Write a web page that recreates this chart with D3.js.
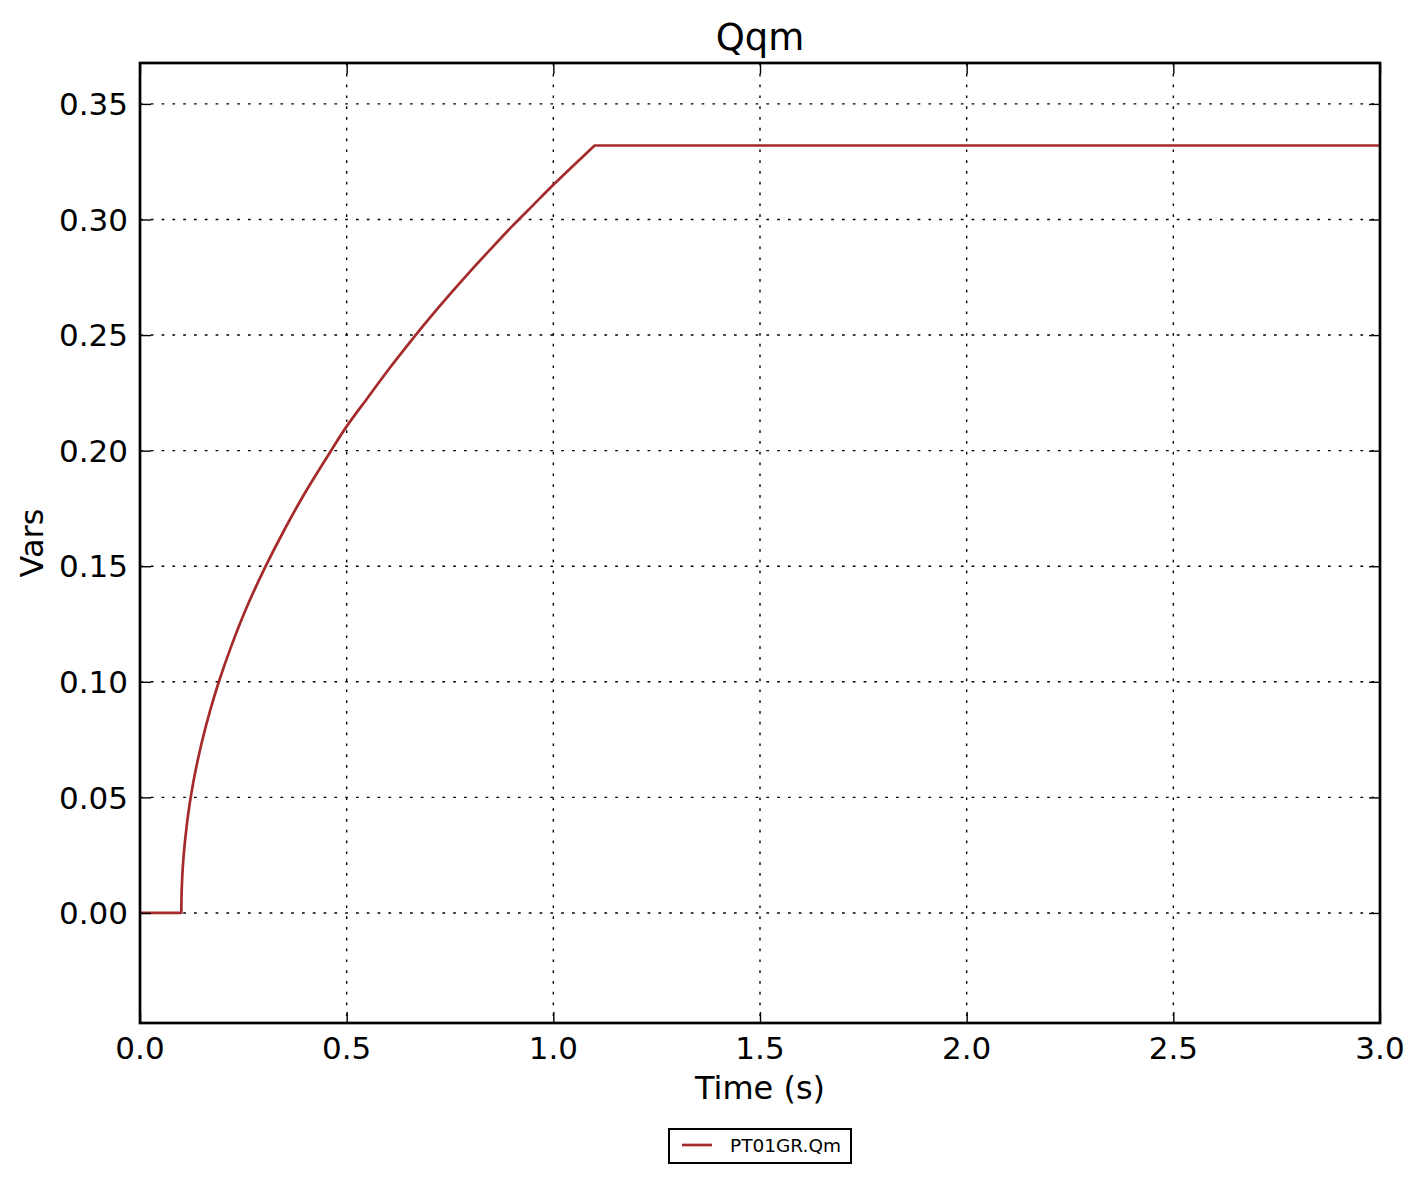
<!DOCTYPE html>
<html>
<head>
<meta charset="utf-8">
<script src="https://cdn.jsdelivr.net/npm/d3@7"></script>
<style>
  html, body { margin: 0; padding: 0; background: #fff; }
  svg { display: block; font-family: "DejaVu Sans", sans-serif; }
</style>
</head>
<body>
<svg id="chart" width="1424" height="1182"></svg>
<script>
// ---- data ----
const timeValues = [0, 0.1, 0.1005, 0.102, 0.105, 0.11, 0.12, 0.13, 0.15, 0.17, 0.19, 0.22, 0.26, 0.3, 0.35, 0.4, 0.45, 0.5, 0.55, 0.6, 0.65, 0.7, 0.75, 0.8, 0.85, 0.9, 0.95, 1.0, 1.05, 1.1, 3.0];
const qmValues   = [0, 0,   0.0074, 0.0149, 0.0235, 0.033, 0.047, 0.0575, 0.0742, 0.0878, 0.0996, 0.115, 0.133, 0.1485, 0.166, 0.182, 0.1965, 0.2105, 0.2227, 0.2348, 0.2462, 0.2572, 0.2677, 0.2778, 0.2875, 0.297, 0.306, 0.315, 0.3236, 0.332, 0.332];
const xTicks = [0, 0.5, 1.0, 1.5, 2.0, 2.5, 3.0];
const yTicks = [0.00, 0.05, 0.10, 0.15, 0.20, 0.25, 0.30, 0.35];
const seriesName = "PT01GR.Qm";
const titleText = "Qqm";
const xLabel = "Time (s)";
const yLabel = "Vars";

// ---- layout ----
const L = 140, R = 1380, T = 63, B = 1023;
const svg = d3.select("#chart");

const x = d3.scaleLinear().domain([0, 3]).range([L, R]);
const y = d3.scaleLinear().domain([-0.0476, 0.3677]).range([B, T]);

const FS = 31;

// grid
const grid = svg.append("g");
grid.selectAll("line.gx").data(xTicks.slice(1, -1)).join("line")
  .attr("x1", d => x(d)).attr("x2", d => x(d)).attr("y1", T).attr("y2", B)
  .attr("stroke", "#000").attr("stroke-width", 1.4).attr("stroke-dasharray", "2.7,8.1");
grid.selectAll("line.gy").data(yTicks).join("line")
  .attr("x1", L).attr("x2", R).attr("y1", d => y(d)).attr("y2", d => y(d))
  .attr("stroke", "#000").attr("stroke-width", 1.4).attr("stroke-dasharray", "2.7,8.1");

// series line: smooth rising segment, straight pieces for the step and the plateau
const data = timeValues.map((t, i) => ({ t, v: qmValues[i] }));
const plateau = d3.max(qmValues);
const knee = data.findIndex(d => d.v === plateau);
const rise = data.slice(1, knee + 1);
const flatStart = data.slice(0, 2);
const flatEnd = data.slice(knee);
svg.append("defs").append("clipPath").attr("id", "clip")
  .append("rect").attr("x", L).attr("y", T).attr("width", R - L).attr("height", B - T);
const lineG = svg.append("g").attr("clip-path", "url(#clip)");
const smooth = d3.line().x(d => x(d.t)).y(d => y(d.v)).curve(d3.curveMonotoneY);
const straight = d3.line().x(d => x(d.t)).y(d => y(d.v));
lineG.append("path").attr("d", straight(flatStart) + smooth(rise).replace(/^M/, "L") + straight(flatEnd).replace(/^M/, "L"))
  .attr("fill", "none").attr("stroke", "#a52a2a").attr("stroke-width", 2.7).attr("stroke-linejoin", "round");

// axes with inward ticks on all four sides
const tl = 11;
const fmtX = d3.format(".1f"), fmtY = d3.format(".2f");
const axB = d3.axisBottom(x).tickValues(xTicks).tickSizeInner(-tl).tickSizeOuter(0).tickFormat("");
const axT = d3.axisTop(x).tickValues(xTicks).tickSizeInner(-tl).tickSizeOuter(0).tickFormat("");
const axLft = d3.axisLeft(y).tickValues(yTicks).tickSizeInner(-tl).tickSizeOuter(0).tickFormat("");
const axRt = d3.axisRight(y).tickValues(yTicks).tickSizeInner(-tl).tickSizeOuter(0).tickFormat("");
[[axB, `translate(0,${B})`], [axT, `translate(0,${T})`], [axLft, `translate(${L},0)`], [axRt, `translate(${R},0)`]]
  .forEach(([ax, tr]) => {
    const g = svg.append("g").attr("transform", tr).call(ax);
    g.select(".domain").remove();
    g.selectAll(".tick line").attr("stroke", "#000").attr("stroke-width", 1.4);
  });

// frame
svg.append("rect").attr("x", L).attr("y", T).attr("width", R - L).attr("height", B - T)
  .attr("fill", "none").attr("stroke", "#000").attr("stroke-width", 2.7);

// tick labels
svg.append("g").selectAll("text").data(xTicks).join("text")
  .attr("x", d => x(d)).attr("y", B + 36)
  .attr("text-anchor", "middle").attr("font-size", FS).attr("fill", "#000")
  .text(d => fmtX(d));
svg.append("g").selectAll("text").data(yTicks).join("text")
  .attr("x", L - 12).attr("y", d => y(d)).attr("dy", "0.36em")
  .attr("text-anchor", "end").attr("font-size", FS).attr("fill", "#000")
  .text(d => fmtY(d));

// axis labels & title
svg.append("text").attr("x", (L + R) / 2).attr("y", 1099)
  .attr("text-anchor", "middle").attr("font-size", 32).text(xLabel);
svg.append("text").attr("transform", `translate(43,${(T + B) / 2}) rotate(-90)`)
  .attr("text-anchor", "middle").attr("font-size", 32).text(yLabel);
svg.append("text").attr("x", (L + R) / 2).attr("y", 50)
  .attr("text-anchor", "middle").attr("font-size", 37).text(titleText);

// legend
const lg = svg.append("g");
lg.append("rect").attr("x", 669).attr("y", 1129).attr("width", 182).attr("height", 34)
  .attr("fill", "#fff").attr("stroke", "#000").attr("stroke-width", 2);
lg.append("line").attr("x1", 682).attr("x2", 712).attr("y1", 1145).attr("y2", 1145)
  .attr("stroke", "#a52a2a").attr("stroke-width", 2.7);
lg.append("text").attr("x", 730).attr("y", 1152).attr("font-size", 18.5).text(seriesName);
</script>
</body>
</html>
